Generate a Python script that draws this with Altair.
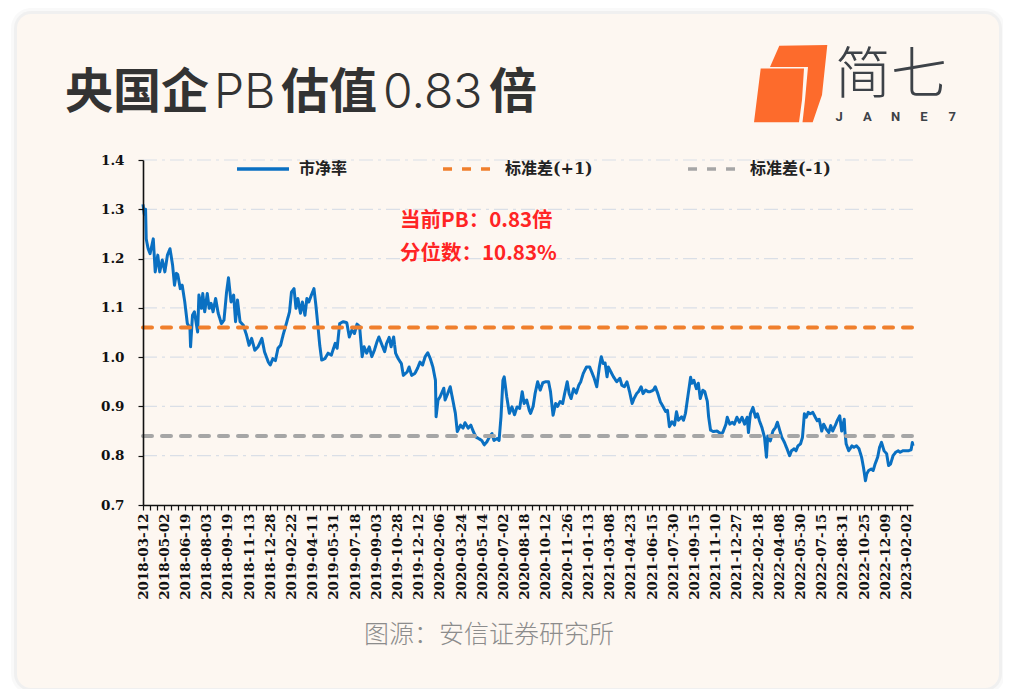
import altair as alt
import pandas as pd

# ---------------- data ----------------
date_labels = [
    "2018-03-12", "2018-05-02", "2018-06-19", "2018-08-03", "2018-09-19", "2018-11-13", "2018-12-28",
    "2019-02-22", "2019-04-11", "2019-05-31", "2019-07-18", "2019-09-03", "2019-10-28", "2019-12-12",
    "2020-02-06", "2020-03-24", "2020-05-14", "2020-07-02", "2020-08-18", "2020-10-12", "2020-11-26",
    "2021-01-13", "2021-03-08", "2021-04-23", "2021-06-15", "2021-07-30", "2021-09-15", "2021-11-10",
    "2021-12-27", "2022-02-18", "2022-04-08", "2022-05-30", "2022-07-15", "2022-08-31", "2022-10-25",
    "2022-12-09", "2023-02-02",
]
days_per_label = 33

day = [
    0, 2, 4, 5, 8, 11, 16, 19, 23, 26, 30, 34, 38, 42, 46, 49, 52, 54, 58, 61, 65, 69, 73, 74, 77, 80, 85, 87,
    91, 93, 96, 100, 103, 106, 109, 113, 117, 122, 126, 130, 133, 137, 141, 144, 147, 151, 156, 161, 165, 169,
    174, 179, 185, 189, 195, 198, 202, 206, 210, 214, 218, 223, 228, 231, 235, 238, 241, 245, 248, 252, 255,
    258, 262, 266, 269, 272, 275, 278, 283, 288, 293, 299, 302, 306, 311, 317, 321, 325, 329, 333, 337, 341,
    344, 348, 352, 356, 360, 364, 367, 372, 376, 379, 383, 386, 390, 393, 397, 402, 405, 411, 414, 418, 423,
    427, 431, 435, 439, 443, 447, 451, 455, 456, 459, 462, 468, 470, 474, 478, 482, 486, 489, 494, 498, 501,
    506, 510, 514, 518, 522, 527, 531, 535, 539, 543, 546, 551, 554, 557, 560, 562, 566, 570, 574, 578, 582,
    586, 590, 593, 597, 601, 603, 607, 610, 614, 618, 622, 626, 631, 634, 638, 642, 645, 649, 653, 656, 660,
    663, 666, 670, 674, 678, 681, 685, 690, 695, 699, 702, 706, 710, 713, 716, 719, 722, 724, 728, 732, 737,
    742, 745, 749, 753, 757, 761, 764, 768, 771, 775, 778, 782, 786, 789, 794, 797, 801, 805, 809, 813, 816,
    819, 823, 827, 830, 833, 838, 841, 844, 848, 852, 854, 857, 861, 864, 867, 871, 874, 878, 880, 883, 887,
    893, 899, 902, 907, 909, 913, 917, 920, 924, 928, 932, 936, 940, 942, 945, 949, 953, 956, 959, 963, 967,
    970, 972, 976, 980, 984, 987, 991, 994, 998, 1002, 1006, 1009, 1013, 1016, 1019, 1023, 1026, 1029, 1032,
    1035, 1038, 1042, 1046, 1049, 1052, 1056, 1059, 1063, 1067, 1070, 1073, 1078, 1080, 1084, 1087, 1091,
    1092, 1094, 1098, 1103, 1106, 1110, 1114, 1118, 1121, 1124, 1126, 1129, 1133, 1136, 1139, 1143, 1146,
    1149, 1153, 1157, 1160, 1163, 1167, 1171, 1175, 1178, 1182, 1186, 1191, 1195, 1197, 1198,
]

pb = [
    1.31, 1.29, 1.30, 1.24, 1.22, 1.21, 1.24, 1.173, 1.207, 1.173, 1.197, 1.173, 1.207, 1.22, 1.187, 1.146,
    1.17, 1.168, 1.139, 1.146, 1.112, 1.068, 1.06, 1.021, 1.085, 1.092, 1.051, 1.126, 1.099, 1.129, 1.092,
    1.129, 1.099, 1.109, 1.092, 1.119, 1.089, 1.068, 1.075, 1.132, 1.161, 1.112, 1.126, 1.072, 1.116, 1.072,
    1.065, 1.045, 1.024, 1.038, 1.014, 1.021, 1.038, 1.011, 0.990, 0.984, 0.997, 0.993, 1.018, 1.024, 1.045,
    1.068, 1.092, 1.132, 1.139, 1.099, 1.119, 1.089, 1.112, 1.085, 1.119, 1.112, 1.126, 1.139, 1.105, 1.065,
    1.024, 0.994, 0.997, 1.008, 1.004, 1.028, 1.018, 1.068, 1.072, 1.070, 1.041, 1.055, 1.048, 1.067, 1.062,
    1.001, 1.021, 1.008, 1.021, 1.001, 1.014, 1.031, 1.041, 1.024, 1.011, 1.028, 1.040, 1.021, 1.041, 1.008,
    0.997, 0.987, 0.963, 0.970, 0.980, 0.963, 0.967, 0.977, 0.990, 0.984, 1.001, 1.009, 0.997, 0.980, 0.953,
    0.879, 0.913, 0.919, 0.937, 0.913, 0.926, 0.940, 0.913, 0.886, 0.849, 0.862, 0.856, 0.867, 0.856, 0.862,
    0.849, 0.838, 0.835, 0.831, 0.822, 0.828, 0.838, 0.845, 0.831, 0.835, 0.831, 0.879, 0.953, 0.960, 0.919,
    0.886, 0.899, 0.883, 0.899, 0.896, 0.930, 0.906, 0.913, 0.892, 0.886, 0.900, 0.926, 0.950, 0.933, 0.948,
    0.950, 0.950, 0.930, 0.882, 0.906, 0.900, 0.910, 0.906, 0.926, 0.950, 0.926, 0.916, 0.936, 0.927, 0.943,
    0.950, 0.967, 0.980, 0.980, 0.967, 0.957, 0.940, 0.980, 1.001, 0.987, 0.988, 0.960, 0.980, 0.970, 0.960,
    0.950, 0.957, 0.943, 0.940, 0.950, 0.930, 0.906, 0.916, 0.926, 0.930, 0.940, 0.926, 0.933, 0.930, 0.930,
    0.933, 0.940, 0.926, 0.909, 0.900, 0.890, 0.892, 0.859, 0.869, 0.862, 0.889, 0.872, 0.879, 0.872, 0.886,
    0.923, 0.959, 0.947, 0.953, 0.936, 0.947, 0.916, 0.933, 0.930, 0.910, 0.879, 0.852, 0.849, 0.850, 0.845,
    0.847, 0.864, 0.878, 0.864, 0.868, 0.864, 0.878, 0.868, 0.878, 0.864, 0.878, 0.847, 0.885, 0.898, 0.878,
    0.885, 0.871, 0.857, 0.837, 0.797, 0.840, 0.830, 0.850, 0.857, 0.868, 0.850, 0.837, 0.827, 0.814, 0.800,
    0.810, 0.814, 0.810, 0.820, 0.824, 0.837, 0.885, 0.878, 0.888, 0.885, 0.888, 0.878, 0.871, 0.874, 0.850,
    0.864, 0.854, 0.847, 0.861, 0.850, 0.864, 0.871, 0.881, 0.850, 0.874, 0.850, 0.824, 0.810, 0.820, 0.817,
    0.820, 0.814, 0.797, 0.776, 0.749, 0.763, 0.770, 0.773, 0.770, 0.783, 0.797, 0.817, 0.827, 0.810, 0.804,
    0.780, 0.783, 0.800, 0.807, 0.810, 0.807, 0.810, 0.810, 0.810, 0.812, 0.827, 0.820,
]

std_plus = 1.06
std_minus = 0.84
last_day = 1198

series_names = ["市净率", "标准差(+1)", "标准差(-1)"]
series_colors = ["#0a70c2", "#f07f2c", "#a6a6a6"]
series_dash = [[1, 0], [9, 10], [9, 10]]

y_ticks = [0.7, 0.8, 0.9, 1.0, 1.1, 1.2, 1.3, 1.4]
grid_values = [0.8, 0.9, 1.0, 1.1, 1.2, 1.3, 1.4]

CJK = "Noto Sans CJK SC"
LATIN_THIN = "Inter, Noto Sans CJK SC"
title_parts = [("央国企", CJK, "bold", 48), ("PB", LATIN_THIN, 300, 48), ("估值", CJK, "bold", 48),
               ("0.83", LATIN_THIN, 300, 48), ("倍", CJK, "bold", 48)]
note_lines = ["当前PB：0.83倍", "分位数：10.83%"]
source_text = "图源：安信证券研究所"
logo_text = "简七"
logo_letters = ["J", "A", "N", "E", "7"]

# ---------------- frames ----------------
line_df = pd.DataFrame({"day": day, "pb": pb, "series": series_names[0]})
band_df = pd.DataFrame({
    "day": [0, last_day, 0, last_day],
    "pb": [std_plus, std_plus, std_minus, std_minus],
    "series": [series_names[1], series_names[1], series_names[2], series_names[2]],
})
grid_df = pd.DataFrame({"pb": grid_values})
one = pd.DataFrame({"k": [0]})

W, H = 770, 345
AXIS_FONT = "DejaVu Serif"

labels_js = "[" + ",".join("'" + d + "'" for d in date_labels) + "]"
x_axis = alt.Axis(
    values=list(range(0, days_per_label * (len(date_labels) - 1) + 1, days_per_label // 3)),
    labelExpr=f"datum.value % {days_per_label} === 0 ? {labels_js}[datum.value / {days_per_label}] : ''",
    labelAngle=270, labelAlign="right", labelBaseline="middle",
    labelFont=AXIS_FONT, labelFontWeight="bold", labelFontSize=13.5, labelColor="#111111",
    labelPadding=3, labelOverlap=False, labelBound=False, labelFlush=False,
    tickSize=5, tickColor="#111111", tickWidth=1.2,
    domainColor="#111111", domainWidth=1.6, grid=False, title=None, zindex=1,
)
y_axis = alt.Axis(
    values=y_ticks, format=".1f",
    labelFont=AXIS_FONT, labelFontWeight="bold", labelFontSize=13.5, labelColor="#111111",
    labelPadding=14, tickSize=5, tickColor="#111111", tickWidth=1.2,
    domainColor="#111111", domainWidth=1.6, grid=False, title=None, zindex=1,
)
x_scale = alt.Scale(domain=[0, last_day], nice=False, zero=False)
y_scale = alt.Scale(domain=[0.7, 1.4], nice=False, zero=False)

legend = alt.Legend(
    title=None, orient="none", legendX=92, legendY=-19, direction="horizontal",
    symbolType="stroke", symbolSize=2700, symbolStrokeWidth=3.5,
    labelFont=AXIS_FONT + ", " + CJK, labelFontWeight="bold", labelFontSize=16, labelColor="#222222",
    labelOffset=8, columnPadding=88, padding=0, labelLimit=300,
)
color_enc = alt.Color("series:N", scale=alt.Scale(domain=series_names, range=series_colors), legend=legend)
dash_enc = alt.StrokeDash("series:N", scale=alt.Scale(domain=series_names, range=series_dash), legend=legend)

# ---------------- card ----------------
shadow2 = alt.Chart(one).mark_rect(cornerRadius=20, fill="#000000", opacity=0.025).encode(
    x=alt.value(-132), x2=alt.value(862), y=alt.value(-152), y2=alt.value(534))
shadow1 = alt.Chart(one).mark_rect(cornerRadius=17, fill="#000000", opacity=0.035).encode(
    x=alt.value(-129), x2=alt.value(859), y=alt.value(-149), y2=alt.value(531))
card = alt.Chart(one).mark_rect(cornerRadius=14, fill="#fdf7f1").encode(
    x=alt.value(-126), x2=alt.value(856), y=alt.value(-146), y2=alt.value(528))

# ---------------- chart marks ----------------
grid = alt.Chart(grid_df).mark_rule(color="#dadfe7", strokeWidth=1.2, strokeDash=[14, 5, 3, 5]).encode(
    y=alt.Y("pb:Q", scale=y_scale, axis=y_axis))

pb_line = alt.Chart(line_df).mark_line(strokeWidth=3, strokeJoin="round").encode(
    x=alt.X("day:Q", scale=x_scale, axis=x_axis),
    y=alt.Y("pb:Q", scale=y_scale, axis=y_axis),
    color=color_enc, strokeDash=dash_enc, detail="series:N",
)
band_lines = alt.Chart(band_df).mark_line(strokeWidth=4, strokeCap="round").encode(
    x=alt.X("day:Q", scale=x_scale, axis=x_axis),
    y=alt.Y("pb:Q", scale=y_scale, axis=y_axis),
    color=color_enc, strokeDash=dash_enc, detail="series:N",
)

# ---------------- texts ----------------
title_x = [-78, 71, 138, 240, 346]
title_layers = [
    alt.Chart(one).mark_text(text=t, font=f, fontWeight=w, fontSize=fs, color="#333333",
                             align="left", baseline="alphabetic").encode(x=alt.value(px), y=alt.value(-52))
    for (t, f, w, fs), px in zip(title_parts, title_x)
]

note_layers = [
    alt.Chart(one).mark_text(text=t, font=CJK, fontWeight="bold", fontSize=20.5, color="#ff2424",
                             align="left", baseline="middle").encode(x=alt.value(257), y=alt.value(py))
    for t, py in zip(note_lines, [61, 94])
]

source = alt.Chart(one).mark_text(text=source_text, font=CJK, fontWeight=300, fontSize=25, color="#8c8c8c",
                                  align="center", baseline="middle").encode(x=alt.value(346), y=alt.value(475))

logo_path = ("M -10.7 -38.3 L 37.3 -39 L 32 11 L 22.7 38.3 L 12.5 38.3 L 15 16 L 18 -17 L -20 -17 Z "
             "M -29.3 -15.5 L 14 -15.5 L 12 16 L 9 38.3 L -36 38.3 Z")
logo_mark = alt.Chart(one).mark_point(shape=logo_path, size=4, filled=True, fill="#fd6b2c",
                                      strokeWidth=0, opacity=1).encode(x=alt.value(647), y=alt.value(-76))
logo_word = alt.Chart(one).mark_text(text=logo_text, font=CJK, fontWeight=200, fontSize=56, color="#3d4248",
                                     align="left", baseline="alphabetic").encode(x=alt.value(692), y=alt.value(-67))
logo_letter_layers = [
    alt.Chart(one).mark_text(text=ch, font="Roboto", fontWeight="bold", fontSize=13, color="#3d4248",
                             align="center", baseline="middle").encode(x=alt.value(696 + i * 28.3), y=alt.value(-43))
    for i, ch in enumerate(logo_letters)
]

chart = alt.layer(
    shadow2, shadow1, card, grid, pb_line, band_lines,
    *title_layers, *note_layers, source, logo_mark, logo_word, *logo_letter_layers,
).properties(
    width=W, height=H,
    autosize=alt.AutoSizeParams(type="none"),
    padding={"left": 135, "top": 152, "right": 90, "bottom": 184},
    background="#ffffff",
).configure_view(stroke=None)

chart.save("out.html", embed_options={"renderer": "svg", "actions": False})
